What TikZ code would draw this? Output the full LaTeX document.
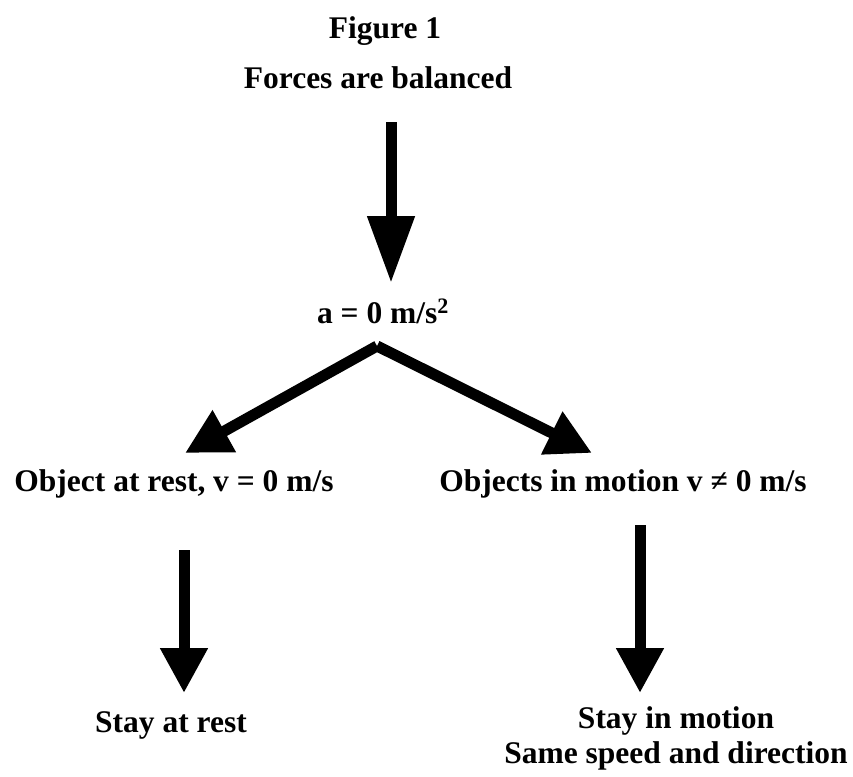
\documentclass[tikz,border=0pt]{standalone}
\usepackage{fontspec}
\setmainfont{Liberation Serif}
\usetikzlibrary{arrows.meta}
\begin{document}
\begin{tikzpicture}[x=1pt, y=-1pt,
    label/.style={font=\fontsize{31.5}{35}\selectfont\bfseries, inner sep=0pt, anchor=base, align=center},
    bigarrow/.style={line width=11pt, -{Triangle[length=45pt, width=45pt]}},
    longarrow/.style={line width=11pt, -{Triangle[length=67pt, width=45pt]}}]
      \useasboundingbox (0,0) rectangle (853,776);
      % texts
      \node[label] (fig) at (385,39) {Figure 1};
      \node[label] (balanced) at (378,88) {Forces are balanced};
      \node[label] (accel) at (383,323) {a = 0 m/s\textsuperscript{2}};
      \node[label] (rest) at (174,491) {Object at rest, v = 0 m/s};
      \node[label] (motion) at (623,491) {Objects in motion v ≠ 0 m/s};
      \node[label] (stayrest) at (171,732) {Stay at rest};
      \node[label] (staymotion) at (676,763) {Stay in motion\\Same speed and direction};
      % arrow ends
      \coordinate (topstart) at (391,122);
      \coordinate (toptip) at (391,283);
      \coordinate (fork) at (377,346);
      \coordinate (lefttip) at (185,453);
      \coordinate (righttip) at (592,453);
      \coordinate (reststart) at (184,550);
      \coordinate (resttip) at (184,693);
      \coordinate (motionstart) at (640,525);
      \coordinate (motiontip) at (640,693);
      % arrows
      \draw[longarrow] (topstart) -- (toptip);
      \draw[bigarrow] (fork) -- (lefttip);
      \draw[bigarrow] (fork) -- (righttip);
      \draw[bigarrow] (reststart) -- (resttip);
      \draw[bigarrow] (motionstart) -- (motiontip);
    \end{tikzpicture}
\end{document}
